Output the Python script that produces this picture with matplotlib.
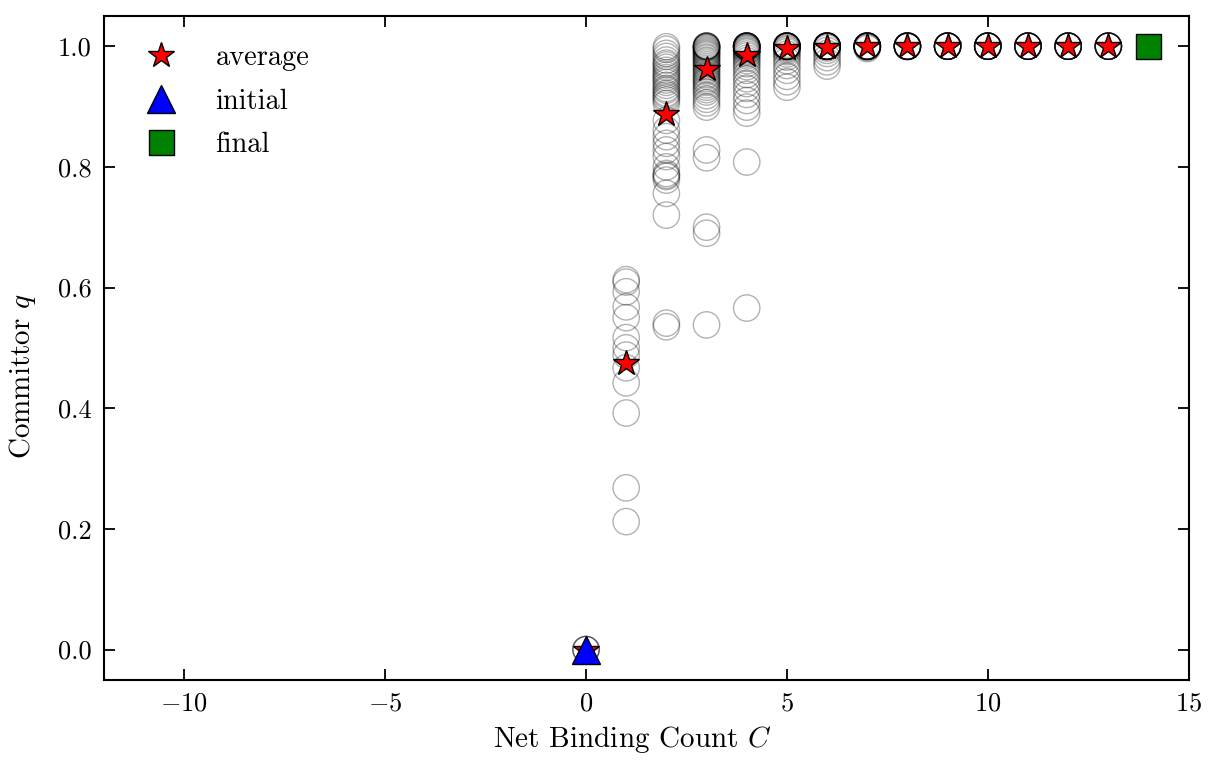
import matplotlib

matplotlib.use("Agg")

import matplotlib.pyplot as plt

plt.rcParams["font.family"] = "serif"
plt.rcParams["font.serif"] = ["cmr10", "DejaVu Serif"]
plt.rcParams["mathtext.fontset"] = "cm"
plt.rcParams["axes.formatter.use_mathtext"] = True

# committor estimates of individual configurations, per net binding count
q_c0 = [0.0, 0.0, 0.0]
q_c1 = [0.613, 0.609, 0.593, 0.568, 0.550, 0.517, 0.500, 0.488, 0.467,
        0.442, 0.392, 0.268, 0.212]
q_c2 = [0.999, 0.995, 0.988, 0.983, 0.977, 0.972, 0.969, 0.965, 0.960,
        0.956, 0.952, 0.948, 0.944, 0.940, 0.935, 0.930, 0.927, 0.922,
        0.919, 0.915, 0.911, 0.905, 0.877, 0.861, 0.850, 0.839, 0.828,
        0.817, 0.800, 0.789, 0.786, 0.784, 0.778, 0.756, 0.720, 0.541,
        0.535]
q_c3 = [1.0, 1.0, 1.0, 1.0, 0.999, 0.998, 0.997, 0.995, 0.993, 0.991,
        0.989, 0.987, 0.985, 0.982, 0.980, 0.977, 0.975, 0.972, 0.969,
        0.966, 0.963, 0.960, 0.957, 0.953, 0.950, 0.946, 0.943, 0.940,
        0.936, 0.932, 0.928, 0.924, 0.918, 0.912, 0.906, 0.899, 0.828,
        0.815, 0.700, 0.690, 0.538]
q_c4 = [1.0, 1.0, 1.0, 1.0, 1.0, 1.0, 1.0, 1.0, 0.999, 0.998, 0.997,
        0.996, 0.994, 0.992, 0.990, 0.987, 0.984, 0.980, 0.976, 0.971,
        0.966, 0.960, 0.953, 0.946, 0.938, 0.930, 0.920, 0.910, 0.899,
        0.889, 0.808, 0.566]
q_c5 = [1.0, 1.0, 1.0, 1.0, 1.0, 1.0, 1.0, 1.0, 1.0, 1.0, 0.999, 0.998,
        0.996, 0.994, 0.991, 0.987, 0.982, 0.976, 0.968, 0.960, 0.950,
        0.941, 0.932]
q_c6 = [1.0, 1.0, 1.0, 1.0, 1.0, 1.0, 1.0, 1.0, 1.0, 1.0, 1.0, 0.999,
        0.997, 0.993, 0.988, 0.981, 0.974, 0.967]
q_c7 = [1.0, 1.0, 1.0, 1.0, 1.0, 1.0, 1.0, 1.0, 1.0, 1.0, 0.999, 0.998,
        0.996]
q_c8 = [1.0, 1.0, 1.0, 1.0, 1.0, 1.0, 1.0, 1.0, 1.0, 1.0, 0.999]
q_c9 = [1.0, 1.0, 1.0, 1.0, 1.0, 1.0, 1.0, 1.0, 1.0, 1.0]
q_c10 = [1.0, 1.0, 1.0, 1.0, 1.0, 1.0, 1.0, 1.0, 1.0, 1.0]
q_c11 = [1.0, 1.0, 1.0, 1.0, 1.0, 1.0, 1.0, 1.0, 1.0]
q_c12 = [1.0, 1.0, 1.0, 1.0, 1.0, 1.0, 1.0, 1.0, 1.0]
q_c13 = [1.0, 1.0, 1.0, 1.0, 1.0, 1.0, 1.0, 1.0]
samples = [q_c0, q_c1, q_c2, q_c3, q_c4, q_c5, q_c6, q_c7, q_c8, q_c9,
           q_c10, q_c11, q_c12, q_c13]

avg_c = [0, 1, 2, 3, 4, 5, 6, 7, 8, 9, 10, 11, 12, 13]
avg_q = [0.0, 0.475, 0.887, 0.962, 0.985, 0.997, 0.999, 1.0, 1.0, 1.0,
         1.0, 1.0, 1.0, 1.0]
initial_c, initial_q = 0, 0.0
final_c, final_q = 14, 1.0

fig = plt.figure(figsize=(12.08, 7.62), dpi=100)
ax = fig.add_axes([0.086, 0.108, 0.898, 0.871])

for c, qs in enumerate(samples):
    ax.scatter([c] * len(qs), qs, s=360, facecolors="none",
               edgecolors="black", linewidths=1.0, alpha=0.3, zorder=2)

ax.plot(avg_c, avg_q, "*", color="red", markeredgecolor="black",
        markersize=19, linestyle="none", label="average", zorder=4)
ax.plot(initial_c, initial_q, "^", color="blue", markeredgecolor="black",
        markersize=20, linestyle="none", label="initial", zorder=5)
ax.plot(final_c, final_q, "s", color="green", markeredgecolor="black",
        markersize=18, linestyle="none", label="final", zorder=5)

ax.set_xlim(-12, 15)
ax.set_ylim(-0.05, 1.05)
ax.set_xticks([-10, -5, 0, 5, 10, 15])
ax.set_yticks([0.0, 0.2, 0.4, 0.6, 0.8, 1.0])
ax.set_yticklabels(["0.0", "0.2", "0.4", "0.6", "0.8", "1.0"])
ax.set_xticklabels(["$-10$", "$-5$", "$0$", "$5$", "$10$", "$15$"])
ax.tick_params(direction="in", top=True, right=True, length=8, width=1.3,
               labelsize=19, pad=9)
for sp in ax.spines.values():
    sp.set_linewidth(1.5)

ax.set_xlabel("Net Binding Count $C$", fontsize=21)
ax.set_ylabel("Committor $q$", fontsize=21)
ax.xaxis.set_label_coords(0.487, -0.066)
ax.yaxis.set_label_coords(-0.061, 0.458)

ax.legend(loc="upper left", frameon=False, fontsize=20.5, numpoints=1,
          handlelength=2.0, handletextpad=0.9, borderaxespad=0.62,
          labelspacing=0.6)

fig.savefig("out.png", dpi=100)
